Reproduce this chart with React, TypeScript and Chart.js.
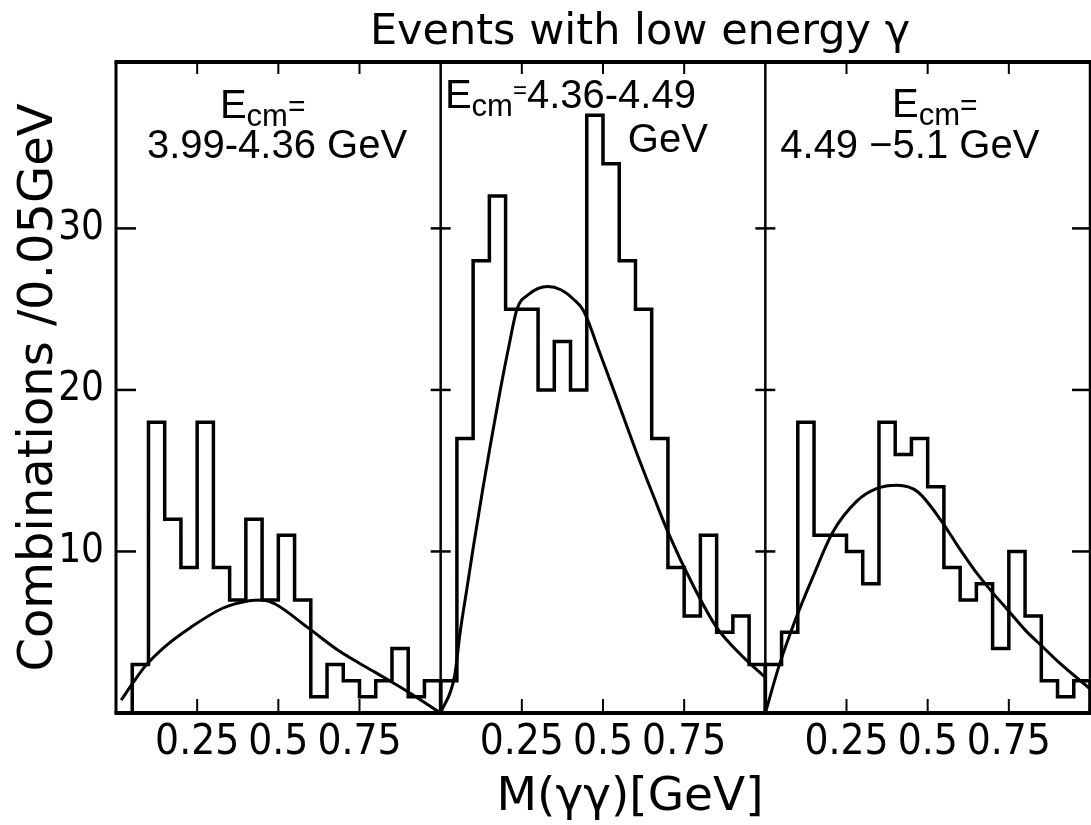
import React, { useEffect, useRef } from 'react';
import { Chart, registerables } from 'chart.js';

Chart.register(...registerables);

// ---------------- data ----------------
const binWidth = 0.05; // GeV per bin

// counts per 0.05 GeV bin, first bin starts at 0.00 GeV
const countsLow = [0, 3, 18, 12, 9, 18, 9, 7, 12, 7, 11, 7, 1, 3, 2, 1, 2, 4, 1, 2];
const countsMid = [2, 17, 28, 32, 25, 25, 20, 23, 20, 37, 34, 28, 25, 17, 9, 6, 11, 5, 6, 3];
const countsHigh = [3, 5, 18, 11, 11, 10, 8, 18, 16, 17, 14, 9, 7, 8, 4, 10, 6, 2, 1, 2];

// fitted curves
const fitLowX = [0.016, 0.05, 0.09, 0.15, 0.23, 0.33, 0.41, 0.45, 0.49, 0.59, 0.69, 0.8, 0.9, 1.0];
const fitLowY = [0.8, 1.8, 2.9, 4.1, 5.3, 6.5, 6.95, 7.0, 6.75, 5.3, 3.8, 2.5, 1.3, 0.0];

const fitMidX = [0, 0.043, 0.06, 0.08, 0.1, 0.13, 0.155, 0.18, 0.21, 0.235, 0.27, 0.33, 0.37, 0.41, 0.44, 0.49, 0.54, 0.6, 0.66, 0.7, 0.78, 0.85, 0.93, 1.0];
const fitMidY = [0, 2.3, 5.0, 7.6, 10.2, 13.9, 16.8, 19.6, 22.7, 25.0, 25.9, 26.4, 26.2, 25.6, 24.9, 22.3, 19.6, 16.3, 13.2, 11.2, 7.8, 5.3, 3.5, 2.2];

const fitHighX = [0, 0.042, 0.094, 0.146, 0.208, 0.281, 0.344, 0.406, 0.469, 0.542, 0.594, 0.646, 0.698, 0.75, 0.802, 0.854, 0.906, 1.0];
const fitHighY = [0, 2.9, 5.85, 8.4, 11.2, 13.1, 13.9, 14.1, 13.7, 11.9, 10.3, 8.8, 7.5, 6.3, 5.1, 4.1, 3.1, 1.5];

const xTickValues = [0.25, 0.5, 0.75];
const xTickLabels = ['0.25', '0.5', '0.75'];
const yTickValues = [10, 20, 30];
const yMax = 40.3;

const energyRanges = ['3.99-4.36', '4.36-4.49', '4.49 \u22125.1'];
const chartTitle = 'Events with low energy \u03b3';
const xAxisTitle = 'M(\u03b3\u03b3)[GeV]';
const yAxisTitle = 'Combinations /0.05GeV';

const panels = [
  { counts: countsLow, fitX: fitLowX, fitY: fitLowY },
  { counts: countsMid, fitX: fitMidX, fitY: fitMidY },
  { counts: countsHigh, fitX: fitHighX, fitY: fitHighY },
];

// ---------------- helpers ----------------
const FONT_MAIN = "'DejaVu Sans', 'Noto Sans', sans-serif";
const FONT_NOTE = "'Liberation Sans', 'DejaVu Sans', sans-serif";
const FONT_NARROW = "'Liberation Sans Narrow', 'DejaVu Sans Condensed', 'DejaVu Sans', sans-serif";

function histogramPoints(counts: number[], offset: number) {
  const pts: { x: number; y: number }[] = [{ x: offset, y: 0 }];
  counts.forEach((c, i) => pts.push({ x: offset + i * binWidth, y: c }));
  pts.push({ x: offset + counts.length * binWidth, y: 0 });
  return pts;
}

function curvePoints(xs: number[], ys: number[], offset: number) {
  return xs.map((x, i) => ({ x: offset + x, y: ys[i] }));
}

const allTickValues: number[] = [];
const allTickLabels: string[] = [];
panels.forEach((_, p) => {
  xTickValues.forEach((v, j) => {
    allTickValues.push(p + v);
    allTickLabels.push(xTickLabels[j]);
  });
});

type Run = { t: string; s: number; dy?: number; f?: string };

function drawRuns(ctx: CanvasRenderingContext2D, runs: Run[], x: number, y: number, align: 'left' | 'center' | 'right') {
  let total = 0;
  runs.forEach((r) => {
    ctx.font = `${r.s}px ${r.f || FONT_MAIN}`;
    total += ctx.measureText(r.t).width;
  });
  let cx = align === 'center' ? x - total / 2 : align === 'right' ? x - total : x;
  ctx.textAlign = 'left';
  ctx.textBaseline = 'alphabetic';
  runs.forEach((r) => {
    ctx.font = `${r.s}px ${r.f || FONT_MAIN}`;
    ctx.fillText(r.t, cx, y + (r.dy || 0));
    cx += ctx.measureText(r.t).width;
  });
}

const framePlugin = {
  id: 'frame',
  afterDatasetsDraw(chart: any) {
    const { ctx, chartArea, scales } = chart;
    const { left, right, top, bottom } = chartArea;
    const xs = scales.x;
    const ys = scales.y;
    const line = (x1: number, y1: number, x2: number, y2: number, w: number) => {
      ctx.lineWidth = w;
      ctx.beginPath();
      ctx.moveTo(x1, y1);
      ctx.lineTo(x2, y2);
      ctx.stroke();
    };
    ctx.save();
    ctx.strokeStyle = '#000';
    ctx.lineCap = 'butt';
    line(left - 1.5, top, right + 1, top, 4);
    line(left - 1.5, bottom, right + 1, bottom, 4);
    line(left, top, left, bottom, 3);
    line(right, top, right, bottom, 2.5);
    for (let p = 1; p < panels.length; p++) {
      const px = xs.getPixelForValue(p);
      line(px, top, px, bottom, 2.5);
    }
    allTickValues.forEach((v) => {
      const px = xs.getPixelForValue(v);
      line(px, bottom, px, bottom - 14, 2);
      line(px, top, px, top + 12, 2);
    });
    yTickValues.forEach((v) => {
      const py = ys.getPixelForValue(v);
      line(left, py, left + 20, py, 2.5);
      for (let p = 1; p < panels.length; p++) {
        const px = xs.getPixelForValue(p);
        line(px - 10, py, px + 10, py, 2.5);
      }
      line(right - 18, py, right, py, 2.5);
    });
    ctx.restore();
  },
};

const textPlugin = {
  id: 'texts',
  afterDraw(chart: any) {
    const { ctx, chartArea, scales } = chart;
    const xs = scales.x;
    const px = (v: number) => xs.getPixelForValue(v);
    ctx.save();
    ctx.fillStyle = '#000';

    // main title
    drawRuns(ctx, [{ t: chartTitle, s: 43 }], 640, 44, 'center');
    // x axis title
    drawRuns(ctx, [{ t: xAxisTitle, s: 47 }], 630, 810, 'center');
    // y axis title (rotated)
    ctx.save();
    ctx.translate(52, (chartArea.top + chartArea.bottom) / 2);
    ctx.rotate(-Math.PI / 2);
    drawRuns(ctx, [{ t: yAxisTitle, s: 48 }], 0, 0, 'center');
    ctx.restore();

    // panel annotations
    const ecm = (eqSize: number, eqDy: number): Run[] => [
      { t: 'E', s: 40, f: FONT_NOTE },
      { t: 'cm', s: 31, dy: 8, f: FONT_NOTE },
      { t: '=', s: eqSize, dy: eqDy, f: FONT_NOTE },
    ];
    drawRuns(ctx, ecm(30, -2), px(0.32), 118, 'left');
    drawRuns(ctx, [{ t: `${energyRanges[0]} GeV`, s: 40, f: FONT_NOTE }], px(0.496), 158, 'center');

    drawRuns(ctx, [...ecm(24, -10), { t: energyRanges[1], s: 40, f: FONT_NOTE }], px(1.013), 108, 'left');
    drawRuns(ctx, [{ t: 'GeV', s: 40, f: FONT_NOTE }], px(1.823), 152, 'right');

    drawRuns(ctx, ecm(30, -2), px(2.39), 117, 'left');
    drawRuns(ctx, [{ t: `${energyRanges[2]} GeV`, s: 40, f: FONT_NOTE }], px(2.445), 158, 'center');

    ctx.restore();
  },
};

export default function App() {
  const canvasRef = useRef<HTMLCanvasElement | null>(null);

  useEffect(() => {
    document.body.style.margin = '0';
    const canvas = canvasRef.current;
    if (!canvas) return;

    const datasets: any[] = [];
    panels.forEach((panel, p) => {
      datasets.push({
        label: `hist${p}`,
        data: histogramPoints(panel.counts, p),
        borderColor: '#000',
        borderWidth: 3.5,
        stepped: 'before',
        pointRadius: 0,
        fill: false,
      });
      datasets.push({
        label: `fit${p}`,
        data: curvePoints(panel.fitX, panel.fitY, p),
        borderColor: '#000',
        borderWidth: 3,
        cubicInterpolationMode: 'monotone',
        pointRadius: 0,
        fill: false,
      });
    });

    const chart = new Chart(canvas, {
      type: 'line',
      data: { datasets },
      options: {
        responsive: false,
        animation: false,
        events: [],
        layout: { padding: { top: 62, right: 1, left: 0, bottom: 0 } },
        plugins: {
          legend: { display: false },
          tooltip: { enabled: false },
          title: { display: false },
        },
        scales: {
          x: {
            type: 'linear',
            min: 0,
            max: panels.length,
            grid: { display: false, drawTicks: false },
            border: { display: false },
            afterFit: (s: any) => {
              s.height = 112;
            },
            afterBuildTicks: (s: any) => {
              s.ticks = allTickValues.map((v) => ({ value: v }));
            },
            ticks: {
              autoSkip: false,
              maxRotation: 0,
              minRotation: 0,
              padding: 5,
              color: '#000',
              font: { family: FONT_NARROW, size: 42 },
              callback: (_v: any, i: number) => allTickLabels[i],
            },
          },
          y: {
            type: 'linear',
            min: 0,
            max: yMax,
            grid: { display: false, drawTicks: false },
            border: { display: false },
            afterFit: (s: any) => {
              s.width = 116;
            },
            afterBuildTicks: (s: any) => {
              s.ticks = yTickValues.map((v) => ({ value: v }));
            },
            ticks: {
              padding: 12,
              color: '#000',
              font: { family: FONT_NARROW, size: 40 },
            },
          },
        },
      } as any,
      plugins: [framePlugin, textPlugin],
    });

    return () => chart.destroy();
  }, []);

  return (
    <div style={{ width: 1091, height: 825, background: '#fff' }}>
      <canvas ref={canvasRef} width={1091} height={825} style={{ display: 'block', width: 1091, height: 825 }} />
    </div>
  );
}
